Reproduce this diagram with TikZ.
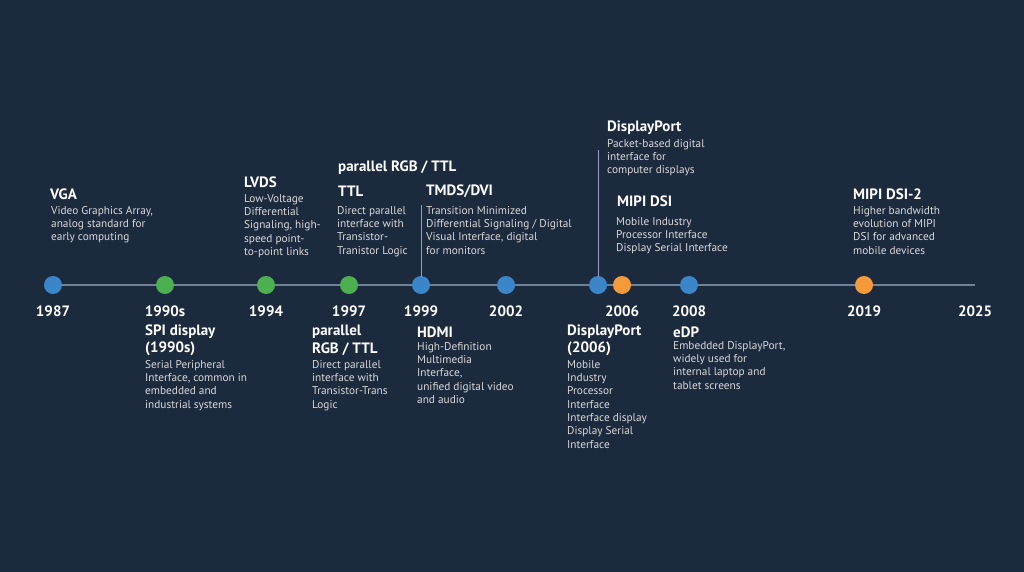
\documentclass[tikz,border=0pt]{standalone}
\usepackage{fontspec}
\setmainfont{PT Sans}
\begin{document}
\begin{tikzpicture}[x=1pt,y=-1pt,
 ttl/.style={anchor=west,inner sep=0pt,text=white,font=\fontsize{15}{17}\selectfont\bfseries,align=left},
 bd/.style={anchor=north west,inner sep=0pt,text=white!85!black,font=\fontsize{11.3}{13.3}\selectfont,align=left},
 yr/.style={anchor=center,inner sep=0pt,text=white,font=\fontsize{15}{17}\selectfont\bfseries},
 dot/.style={circle,minimum size=18pt,inner sep=0pt,fill=#1},
 vl/.style={draw=gray!70!blue!60,line width=1pt}]
\definecolor{bg}{HTML}{1C2A3E}
\definecolor{db}{HTML}{3A86C8}
\definecolor{dg}{HTML}{4CAF50}
\definecolor{do}{HTML}{F59A3A}
\definecolor{ln}{HTML}{6F8398}
\fill[bg] (0,0) rectangle (1024,572);
\useasboundingbox (0,0) rectangle (1024,572);
\coordinate (L) at (45,285); \coordinate (R) at (975,285);
\draw[ln,line width=1.5pt] (L) -- (R);
\foreach \n/\x/\c in {a/53/db,b/165/dg,c/266/dg,d/349/dg,e/421/db,f/506/db,g/598/db,h/622/do,i/689/db,j/864/do}
  \node[dot=\c] (\n) at (\x,285) {};
\foreach \x/\t in {53/1987,165/1990s,266/1994,349/1997,421/1999,506/2002,622/2006,689/2008,864/2019,975/2025}
  \node[yr] at (\x,311) {\t};
\coordinate (e1) at (421,205); \coordinate (g1) at (598,150);
\draw[vl] (e1) -- ([yshift=-1pt]e.north);
\draw[vl] (g1) -- ([yshift=-1pt]g.north);
% top
\node[ttl] at (50,194) {VGA};
\node[bd] at (51,206) {Video Graphics Array,\\analog standard for\\early computing};
\node[ttl] at (244,182) {LVDS};
\node[bd] at (244,194) {Low-Voltage\\Differential\\Signaling, high-\\speed point-\\to-point links};
\node[ttl] at (338,168) {parallel RGB / TTL};
\node[ttl] at (338,191) {TTL};
\node[bd] at (337,206) {Direct parallel\\interface with\\Transistor-\\Tranistor Logic};
\node[ttl] at (426,191) {TMDS/DVI};
\node[bd] at (426,206) {Transition Minimized\\Differential Signaling / Digital\\Visual Interface, digital\\for monitors};
\node[ttl] at (607,128) {DisplayPort};
\node[bd] at (607,139) {Packet-based digital\\interface for\\computer displays};
\node[ttl] at (617,201) {MIPI DSI};
\node[bd] at (616,217) {Mobile Industry\\Processor Interface\\Display Serial Interface};
\node[ttl] at (853,194) {MIPI DSI-2};
\node[bd] at (853,206) {Higher bandwidth\\evolution of MIPI\\DSI for advanced\\mobile devices};
% bottom
\node[ttl] at (145,332) {SPI display};
\node[ttl] at (145,349) {(1990s)};
\node[bd] at (145,360) {Serial Peripheral\\Interface, common in\\embedded and\\industrial systems};
\node[ttl] at (312,332) {parallel};
\node[ttl] at (312,349) {RGB / TTL};
\node[bd] at (312,360) {Direct parallel\\interface with\\Transistor-Trans\\Logic};
\node[ttl] at (417,332) {HDMI};
\node[bd] at (417,342) {High-Definition\\Multimedia\\Interface,\\unified digital video\\and audio};
\node[ttl] at (567,332) {DisplayPort};
\node[ttl] at (567,349) {(2006)};
\node[bd] at (567,360) {Mobile\\Industry\\Processor\\Interface\\Interface display\\Display Serial\\Interface};
\node[ttl] at (673,332) {eDP};
\node[bd] at (673,341) {Embedded DisplayPort,\\widely used for\\internal laptop and\\tablet screens};
\end{tikzpicture}
\end{document}
